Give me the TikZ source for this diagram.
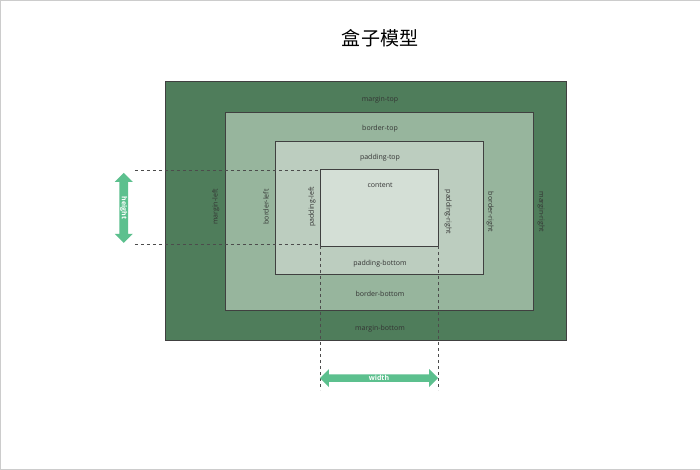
\documentclass[tikz,border=0pt]{standalone}
\usepackage{fontspec}
\setmainfont{Open Sans}
\newfontfamily\cjk{Noto Sans CJK SC}
\usetikzlibrary{shapes.arrows}
\definecolor{mg}{HTML}{4F7D5B}
\definecolor{bd}{HTML}{97B59D}
\definecolor{pd}{HTML}{BCCDBF}
\definecolor{ct}{HTML}{D4DFD6}
\definecolor{ar}{HTML}{5CC08E}
\begin{document}
\begin{tikzpicture}[x=1pt,y=-1pt,
  boxs/.style={draw=black!75,line width=0.6pt},
  lbl/.style={font=\fontsize{7}{8}\selectfont,text=black!80},
  dl/.style={dashed,black!70,line width=0.6pt},
  arr/.style={double arrow,fill=ar,draw=none,double arrow head extend=4pt,inner sep=0pt,minimum width=18pt,text=white,font=\bfseries\fontsize{7}{8}\selectfont}]
\draw[black!20,fill=white] (0.5,0.5) rectangle (699.5,469.5);
\node[font=\cjk\fontsize{19}{22}\selectfont] (title) at (380,38) {盒子模型};
\draw[boxs,fill=mg] (165,82) rectangle (566,340);
\draw[boxs,fill=bd] (225,112) rectangle (533,310);
\draw[boxs,fill=pd] (275,141) rectangle (483,274);
\draw[boxs,fill=ct] (320,169) rectangle (438,246);
\node[lbl] (mt) at (380,100) {margin-top};
\node[lbl] (bt) at (380,129) {border-top};
\node[lbl] (pt) at (380,158) {padding-top};
\node[lbl] (c) at (380,185) {content};
\node[lbl] (pb) at (380,264) {padding-bottom};
\node[lbl] (bb) at (380,294) {border-bottom};
\node[lbl] (mb) at (380,329) {margin-bottom};
\node[lbl,rotate=90] (ml) at (216,207) {margin-left};
\node[lbl,rotate=90] (bl) at (266,207) {border-left};
\node[lbl,rotate=90] (pl) at (312,207) {padding-left};
\node[lbl,rotate=-90] (pr) at (448,212) {padding-right};
\node[lbl,rotate=-90] (br) at (490,212) {border-right};
\node[lbl,rotate=-90] (mr) at (541,212) {margin-right};
\coordinate (h1) at (135,170); \coordinate (h1e) at (320,170);
\coordinate (h2) at (135,244); \coordinate (h2e) at (320,244);
\coordinate (w1) at (320,246); \coordinate (w1e) at (320,390);
\coordinate (w2) at (438,246); \coordinate (w2e) at (438,390);
\draw[dl] (h1) -- (h1e); \draw[dl] (h2) -- (h2e);
\draw[dl] (w1) -- (w1e); \draw[dl] (w2) -- (w2e);
\node[arr,rotate=-90,minimum height=70pt] (ha) at (124,208) {height};
\node[arr,minimum height=118pt] (wa) at (379,378) {width};
\end{tikzpicture}
\end{document}
